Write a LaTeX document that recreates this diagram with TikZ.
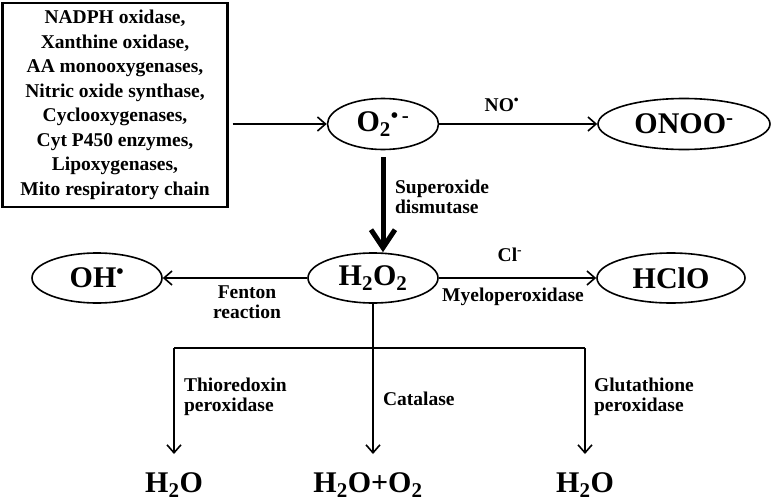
\documentclass[tikz,border=0pt]{standalone}
\usepackage{fontspec}
\setmainfont{Liberation Serif}
\usetikzlibrary{shapes.geometric,arrows.meta}

\begin{document}
\begin{tikzpicture}[->,x=1pt,y=-1pt,line width=1.6pt,
   >={Straight Barb[length=8pt,width=14pt]},
   every node/.style={font=\bfseries\fontsize{19.5}{20}\selectfont},
   sp/.style={draw,ellipse,inner sep=0pt,font=\bfseries\fontsize{30}{30}\selectfont},
   prod/.style={anchor=base,font=\bfseries\fontsize{30}{30}\selectfont}]
   \useasboundingbox (0,0) rectangle (771,501);
   \node[draw,line width=2.2pt,minimum width=225pt,minimum height=204pt,align=center,
      font=\bfseries\fontsize{19.5}{24.5}\selectfont] (src) at (115,105)
      {NADPH oxidase,\\Xanthine oxidase,\\AA monooxygenases,\\Nitric oxide synthase,\\
       Cyclooxygenases,\\Cyt P450 enzymes,\\Lipoxygenases,\\Mito respiratory chain};
   \node[sp,minimum width=111pt,minimum height=51pt] (o2) at (383,124)
      {O\textsubscript{2}\textsuperscript{\textbullet\,-}};
   \node[sp,minimum width=172pt,minimum height=51pt] (onoo) at (684,124)
      {ONOO\textsuperscript{-}};
   \node[sp,minimum width=130pt,minimum height=50pt] (h2o2) at (373,278)
      {H\textsubscript{2}O\textsubscript{2}};
   \node[sp,minimum width=130pt,minimum height=50pt] (oh) at (97,278)
      {OH\textsuperscript{\textbullet}};
   \node[sp,minimum width=148pt,minimum height=50pt] (hclo) at (671,278) {HClO};
    \node[prod] (w1) at (174,492) {H\textsubscript{2}O};
    \node[prod] (w2) at (368,492) {H\textsubscript{2}O+O\textsubscript{2}};
    \node[prod] (w3) at (585,492) {H\textsubscript{2}O};

   \node (no) at (502,105) {NO\textsuperscript{\textbullet}};
   \node[anchor=west,align=left] (sod) at (391,197) {Superoxide\\dismutase};
   \node[align=center] (fen) at (247,302) {Fenton\\reaction};
   \node (cl) at (510,255) {Cl\textsuperscript{-}};
   \node (mpo) at (513,297) {Myeloperoxidase};
   \node[anchor=west,align=left] (trx) at (180,397) {Thioredoxin\\peroxidase};
   \node[anchor=west] (cat) at (379,399) {Catalase};
   \node[anchor=west,align=left] (gpx) at (590,397) {Glutathione\\peroxidase};

    \coordinate (bl) at (174,348);
    \coordinate (bm) at (373,348);
    \coordinate (br) at (585,348);

      \path (src.east |- o2) edge[shorten <=4pt] (o2);
   \path (o2) edge (onoo);
   \path (o2.south) edge[line width=5pt,shorten <=7pt,
      >={Straight Barb[length=18pt,width=24pt]}] (o2.south |- h2o2.north);
   \path (h2o2) edge (oh);
   \path (h2o2) edge (hclo);
   \draw[-] (h2o2) -- (bm);
   \draw[-] (bl) -- (br);
   \path (bl) edge[shorten >=14pt] (w1);
   \path (bm) edge[shorten >=14pt] (bm |- w2.north);
   \path (br) edge[shorten >=14pt] (w3);
    \end{tikzpicture}
\end{document}
